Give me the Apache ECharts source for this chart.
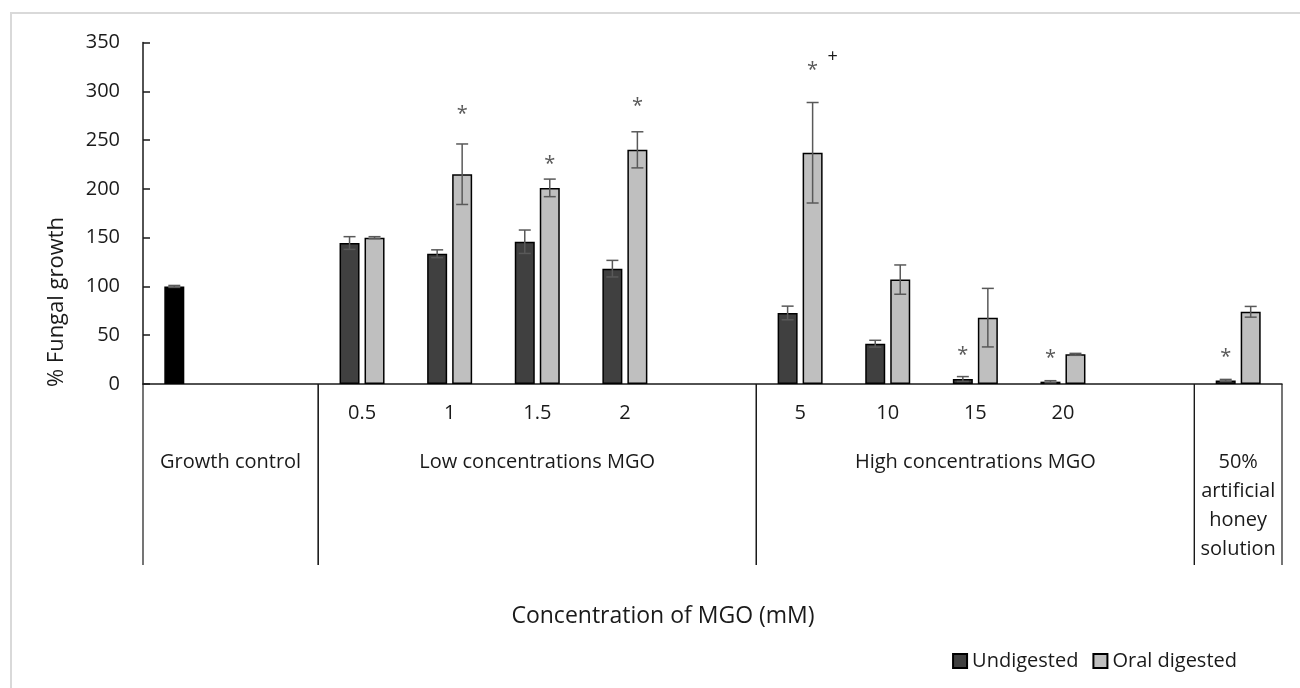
<!DOCTYPE html>
<html>
<head>
<meta charset="utf-8">
<script src="https://cdn.jsdelivr.net/npm/echarts@6/dist/echarts.min.js"></script>
<style>
  html, body { margin: 0; padding: 0; background: #fff; }
  #chart { width: 1300px; height: 688px; }
</style>
</head>
<body>
<div id="chart"></div>
<script>
// categories along the axis (blank slots separate the groups)
const categories = ['', '', '0.5', '1', '1.5', '2', '', '5', '10', '15', '20', '', ''];

const undigested    = [100, null, 144.5, 133.5, 145.8, 118.2, null, 72.8, 41.3, 5.1, 2.4, null, 3.7];
const undigestedErr = [1, null, 6.5, 4, 12, 8.5, null, 7, 3.5, 2.5, 1, null, 1];
const oralDigested  = [null, null, 150, 215, 201, 240, null, 237, 107, 68, 30.4, null, 74];
const oralErr       = [null, null, 1, 31, 9, 18.5, null, 51.5, 15, 30, 1, null, 5.5];

// group labels under the axis
const groupNames = ['Growth control', 'Low concentrations MGO', 'High concentrations MGO', '50%\nartificial\nhoney\nsolution'];
const groupStart = [0, 2, 7, 12];
const groupEnd   = [2, 7, 12, 13];

// significance marks: category, series (0 undigested, 1 oral), height, text
const markCats   = [3, 4, 5, 7, 7, 9, 10, 12];
const markSeries = [1, 1, 1, 1, 1, 0, 0, 0];
const markValues = [282.5, 231.6, 291, 328, 335.5, 36, 33, 34];
const markTexts  = ['*', '*', '*', '*', '+', '*', '*', '*'];

const yTicks = { min: 0, max: 350, step: 50 };

const FONT = 'Open Sans';
const TXT = '#1a1a1a';
const BAR_W = 20;
const BAR_GAP = 5;
const sideOffset = s => (s === 0 ? -1 : 1) * (BAR_W + BAR_GAP) / 2;

const chart = echarts.init(document.getElementById('chart'));

// error bar rows
const errRows = [];
undigested.forEach((v, i) => { if (v != null) errRows.push([i, v, undigestedErr[i], 0]); });
oralDigested.forEach((v, i) => { if (v != null) errRows.push([i, v, oralErr[i], 1]); });

const markRows = markCats.map((c, i) => [c, markValues[i], markSeries[i], i]);
const groupRows = groupStart.map((s, i) => [s, groupEnd[i], i]);

const option = {
  animation: false,
  backgroundColor: '#fff',
  grid: { left: 143, right: 18, top: 42.5, bottom: 304 },
  legend: {
    data: ['Undigested', 'Oral digested'],
    right: 58,
    top: 646,
    icon: 'rect',
    itemWidth: 14,
    itemHeight: 14,
    itemGap: 14,
    textStyle: { fontFamily: FONT, fontSize: 20, color: TXT }
  },
  xAxis: {
    type: 'category',
    data: categories,
    axisLine: { lineStyle: { color: '#1a1a1a', width: 1.5 } },
    axisTick: { show: false },
    axisLabel: { fontFamily: FONT, fontSize: 20, color: TXT, margin: 19, interval: 0 }
  },
  yAxis: {
    type: 'value',
    min: yTicks.min,
    max: yTicks.max,
    interval: yTicks.step,
    axisLine: { show: true, lineStyle: { color: '#1a1a1a', width: 1.5 } },
    axisTick: { show: true, inside: true, length: 7, lineStyle: { color: '#1a1a1a', width: 1.5 } },
    splitLine: { show: false },
    axisLabel: { fontFamily: FONT, fontSize: 20, color: TXT, margin: 23 }
  },
  graphic: [
    {
      type: 'rect',
      shape: { x: 11, y: 13, width: 1400, height: 900 },
      style: { fill: 'none', stroke: '#d9d9d9', lineWidth: 2 },
      silent: true
    },
    {
      type: 'text',
      x: 57, y: 302,
      rotation: Math.PI / 2,
      style: {
        text: '% Fungal growth', fontFamily: FONT, fontSize: 22, fill: TXT,
        align: 'center', verticalAlign: 'middle'
      }
    },
    {
      type: 'text',
      x: 663, y: 616,
      style: {
        text: 'Concentration of MGO (mM)', fontFamily: FONT, fontSize: 23, fill: TXT,
        align: 'center', verticalAlign: 'middle'
      }
    }
  ],
  series: [
    {
      name: 'Undigested',
      type: 'bar',
      barWidth: BAR_W,
      barGap: (BAR_GAP / BAR_W * 100) + '%',
      data: undigested.map((v, i) => (i === 0 && v != null) ? { value: v, itemStyle: { color: '#000' } } : v),
      itemStyle: { color: '#404040', borderColor: '#000', borderWidth: 1.5 }
    },
    {
      name: 'Oral digested',
      type: 'bar',
      barWidth: BAR_W,
      data: oralDigested,
      itemStyle: { color: '#bfbfbf', borderColor: '#000', borderWidth: 1.5 }
    },
    {
      // error bars
      type: 'custom',
      z: 5,
      clip: false,
      data: errRows,
      renderItem: function (params, api) {
        const c = api.value(0), v = api.value(1), e = api.value(2), s = api.value(3);
        const x = api.coord([c, 0])[0] + sideOffset(s);
        const yTop = api.coord([c, v + e])[1];
        const yBot = api.coord([c, Math.max(0, v - e)])[1];
        const st = { stroke: '#595959', lineWidth: 1.5 };
        return {
          type: 'group',
          children: [
            { type: 'line', shape: { x1: x, y1: yTop, x2: x, y2: yBot }, style: st },
            { type: 'line', shape: { x1: x - 6, y1: yTop, x2: x + 6, y2: yTop }, style: st },
            { type: 'line', shape: { x1: x - 6, y1: yBot, x2: x + 6, y2: yBot }, style: st }
          ]
        };
      }
    },
    {
      // significance marks
      type: 'custom',
      z: 6,
      clip: false,
      data: markRows,
      renderItem: function (params, api) {
        const c = api.value(0), v = api.value(1), s = api.value(2), k = api.value(3);
        const t = markTexts[k];
        const p = api.coord([c, v]);
        const isPlus = t === '+';
        return {
          type: 'text',
          x: p[0] + sideOffset(s) + (isPlus ? 20 : 0),
          y: p[1] + (isPlus ? 0 : 6),
          style: {
            text: t, fontFamily: FONT, fontSize: isPlus ? 18 : 20,
            fill: isPlus ? '#1a1a1a' : '#595959',
            align: 'center', verticalAlign: 'middle'
          }
        };
      }
    },
    {
      // group separators and labels under the axis
      type: 'custom',
      z: 4,
      clip: false,
      silent: true,
      data: groupRows,
      renderItem: function (params, api) {
        const s = api.value(0), e = api.value(1), k = api.value(2);
        const band = api.size([1, 0])[0];
        const y0 = api.coord([0, 0])[1];
        const xL = api.coord([s, 0])[0] - band / 2;
        const xR = api.coord([e, 0])[0] - band / 2;
        const st = { stroke: '#1a1a1a', lineWidth: 1.2 };
        return {
          type: 'group',
          children: [
            { type: 'line', shape: { x1: xL, y1: y0, x2: xL, y2: y0 + 181 }, style: st },
            { type: 'line', shape: { x1: xR, y1: y0, x2: xR, y2: y0 + 181 }, style: st },
            {
              type: 'text',
              x: (xL + xR) / 2, y: y0 + 64,
              style: {
                text: groupNames[k], fontFamily: FONT, fontSize: 20, fill: TXT,
                align: 'center', verticalAlign: 'top', lineHeight: 29
              }
            }
          ]
        };
      }
    }
  ]
};

chart.setOption(option);
window.onresize = function () { chart.resize(); };
</script>
</body>
</html>
